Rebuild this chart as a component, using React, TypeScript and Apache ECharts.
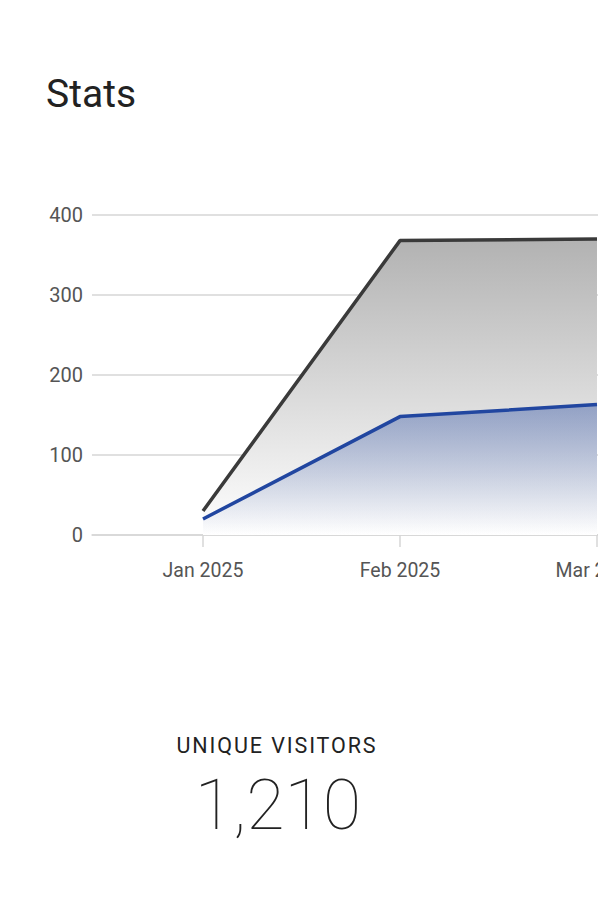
import React, { useEffect, useRef } from "react";
import * as echarts from "echarts";

const months = ["Jan 2025", "Feb 2025", "Mar 2025"];
const pageViews = [30, 368, 370];
const visitors = [20, 148, 163];
const yTicks = [0, 100, 200, 300, 400];
const statLabel = "UNIQUE VISITORS";
const statValue = "1,210";

export default function App() {
  const ref = useRef<HTMLDivElement>(null);
  useEffect(() => {
    if (!ref.current) return;
    const chart = echarts.init(ref.current, null, { renderer: "svg" });
    const idx = months.map((_, i) => i);
    chart.setOption({
      animation: false,
      textStyle: { fontFamily: "Roboto" },
      title: {
        text: "Stats",
        left: 41,
        top: 69,
        textStyle: { fontFamily: "Roboto", fontSize: 39, fontWeight: 400, color: "#222" },
      },
      grid: { left: 92, top: 215, width: 616, height: 320, containLabel: false },
      xAxis: {
        type: "value",
        min: -0.5635,
        max: 2.5635,
        splitLine: { show: false },
        axisLine: { show: true, lineStyle: { color: "#d6d6d6", width: 1.5 } },
        axisTick: {
          show: true,
          customValues: idx,
          length: 12,
          lineStyle: { color: "#d6d6d6", width: 1.5 },
        },
        axisLabel: {
          customValues: idx,
          formatter: (v: number) => months[Math.round(v)] ?? "",
          color: "#555",
          fontSize: 19.5,
          margin: 25,
          fontFamily: "Roboto",
        },
      },
      yAxis: {
        type: "value",
        min: yTicks[0],
        max: yTicks[yTicks.length - 1],
        interval: 100,
        axisLine: { show: false },
        axisTick: { show: false },
        splitLine: { lineStyle: { color: "#d6d6d6", width: 1.5 } },
        axisLabel: { color: "#555", fontSize: 20, margin: 9, fontFamily: "Roboto" },
      },
      series: [
        {
          type: "line",
          data: pageViews.map((v, i) => [i, v]),
          symbol: "none",
          lineStyle: { color: "#3a3a3a", width: 3.5 },
          areaStyle: {
            color: new echarts.graphic.LinearGradient(0, 0, 0, 1, [
              { offset: 0, color: "#b2b2b2" },
              { offset: 1, color: "#ffffff" },
            ]),
            opacity: 1,
          },
          z: 2,
        },
        {
          type: "line",
          data: visitors.map((v, i) => [i, v]),
          symbol: "none",
          lineStyle: { color: "#2146a0", width: 3.5 },
          areaStyle: {
            color: new echarts.graphic.LinearGradient(0, 0, 0, 1, [
              { offset: 0, color: "rgba(33,70,160,0.4)" },
              { offset: 1, color: "rgba(33,70,160,0)" },
            ]),
            opacity: 1,
          },
          z: 3,
        },
      ],
    });
    return () => chart.dispose();
  }, []);
  return (
    <div
      style={{
        position: "fixed",
        left: 0,
        top: 0,
        width: 598,
        height: 910,
        overflow: "hidden",
        background: "#fff",
      }}
    >
      <div ref={ref} style={{ position: "absolute", left: 0, top: 0, width: 780, height: 910 }} />
      <div
        style={{
          position: "absolute",
          left: 77,
          width: 400,
          top: 735,
          textAlign: "center",
          fontFamily: "Roboto",
          fontSize: 21.5,
          lineHeight: "22px",
          letterSpacing: 1.9,
          color: "#222",
        }}
      >
        {statLabel}
      </div>
      <div
        style={{
          position: "absolute",
          left: 78,
          width: 400,
          top: 770,
          textAlign: "center",
          fontFamily: "Roboto",
          fontSize: 70,
          fontWeight: 100,
          lineHeight: "70px",
          color: "#222",
        }}
      >
        {statValue}
      </div>
    </div>
  );
}
